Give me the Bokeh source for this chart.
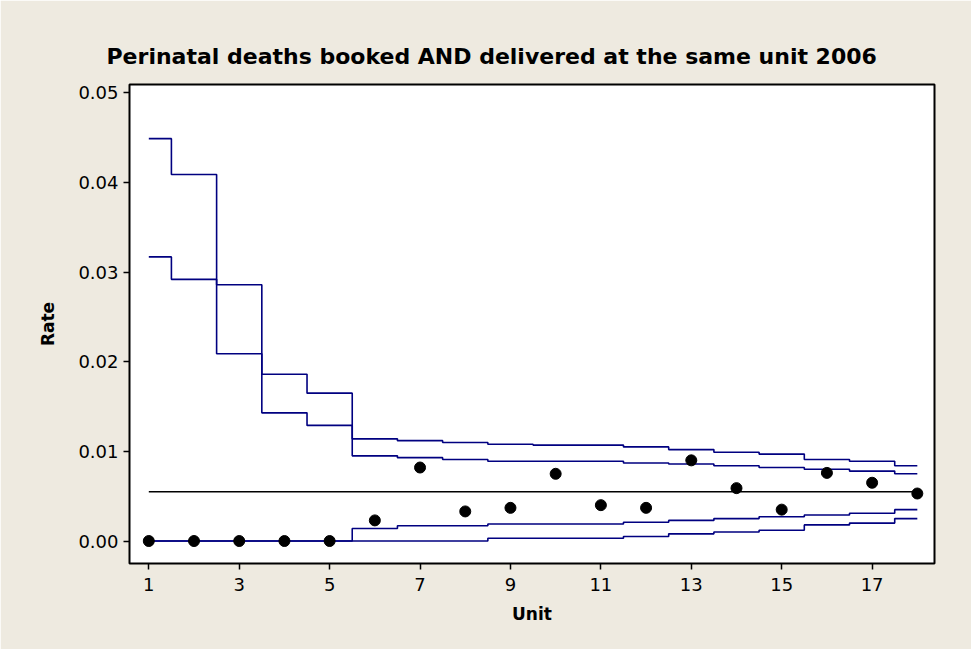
from bokeh.plotting import figure
from bokeh.models import Range1d, FixedTicker, NumeralTickFormatter
from bokeh.embed import file_html
from bokeh.resources import INLINE

units = list(range(1, 19))
rate = [0.0, 0.0, 0.0, 0.0, 0.0, 0.0023, 0.0082, 0.0033, 0.0037, 0.0075,
        0.0040, 0.0037, 0.0090, 0.0059, 0.0035, 0.0076, 0.0065, 0.0053]
center = 0.0055
ucl3 = [0.0449, 0.0409, 0.0286, 0.0186, 0.0165, 0.0114, 0.0112, 0.0110, 0.0108,
        0.0107, 0.0107, 0.0105, 0.0102, 0.0099, 0.0097, 0.0091, 0.0089, 0.0084]
ucl2 = [0.0317, 0.0292, 0.0209, 0.0143, 0.0129, 0.0095, 0.0093, 0.0091, 0.0089,
        0.0089, 0.0089, 0.0087, 0.0086, 0.0084, 0.0082, 0.0080, 0.0078, 0.0075]
lcl2 = [0.0, 0.0, 0.0, 0.0, 0.0, 0.0014, 0.0017, 0.0017, 0.0019,
        0.0019, 0.0019, 0.0021, 0.0023, 0.0025, 0.0027, 0.0029, 0.0031, 0.0035]
lcl3 = [0.0, 0.0, 0.0, 0.0, 0.0, 0.0, 0.0, 0.0, 0.0003,
        0.0003, 0.0003, 0.0005, 0.0008, 0.0010, 0.0012, 0.0018, 0.0020, 0.0025]
x_ticks = [1, 3, 5, 7, 9, 11, 13, 15, 17]
y_ticks = [0.0, 0.01, 0.02, 0.03, 0.04, 0.05]

FONT = "DejaVu Sans"
BG = "#EEEAE0"
NAVY = "#000080"

p = figure(width=971, height=649, output_backend="svg", toolbar_location=None,
           x_range=Range1d(0.573, 18.38), y_range=Range1d(-0.00251, 0.05094),
           title="Perinatal deaths booked AND delivered at the same unit 2006")
p.min_border_left = 129
p.min_border_right = 971 - 934
p.min_border_top = 84
p.min_border_bottom = 649 - 563
p.border_fill_color = BG
p.background_fill_color = "white"
p.outline_line_color = "black"
p.outline_line_width = 2
p.grid.visible = False

p.title.text_font = FONT
p.title.text_font_size = "22px"
p.title.text_font_style = "bold"
p.title.align = "left"
p.title.offset = -23
p.title.standoff = 32
p.title.text_color = "black"

for ax in (p.xaxis[0], p.yaxis[0]):
    ax.major_label_text_font = FONT
    ax.major_label_text_font_size = "18px"
    ax.major_label_text_color = "black"
    ax.axis_label_text_font = FONT
    ax.axis_label_text_font_size = "17px"
    ax.axis_label_text_font_style = "bold"
    ax.axis_label_text_color = "black"
    ax.axis_line_color = None
    ax.major_tick_line_color = "black"
    ax.major_tick_line_width = 1.5
    ax.major_tick_out = 6
    ax.major_tick_in = 0
    ax.minor_tick_line_color = None

p.xaxis.axis_label = "Unit"
p.yaxis.axis_label = "Rate"
p.xaxis.ticker = FixedTicker(ticks=x_ticks)
p.yaxis.ticker = FixedTicker(ticks=y_ticks)
p.yaxis.formatter = NumeralTickFormatter(format="0.00")
p.xaxis.major_label_standoff = 8
p.xaxis.axis_label_standoff = 10
p.yaxis.major_label_standoff = 5
p.yaxis.axis_label_standoff = 17

for series in (ucl3, ucl2, lcl2, lcl3):
    p.step(units, series, mode="center", line_color=NAVY, line_width=1.6)

p.line([units[0], units[-1]], [center, center], line_color="black", line_width=1.6)
p.scatter(units, rate, size=11, marker="circle", fill_color="black", line_color="black")

open("out.html", "w").write(file_html(p, INLINE))
